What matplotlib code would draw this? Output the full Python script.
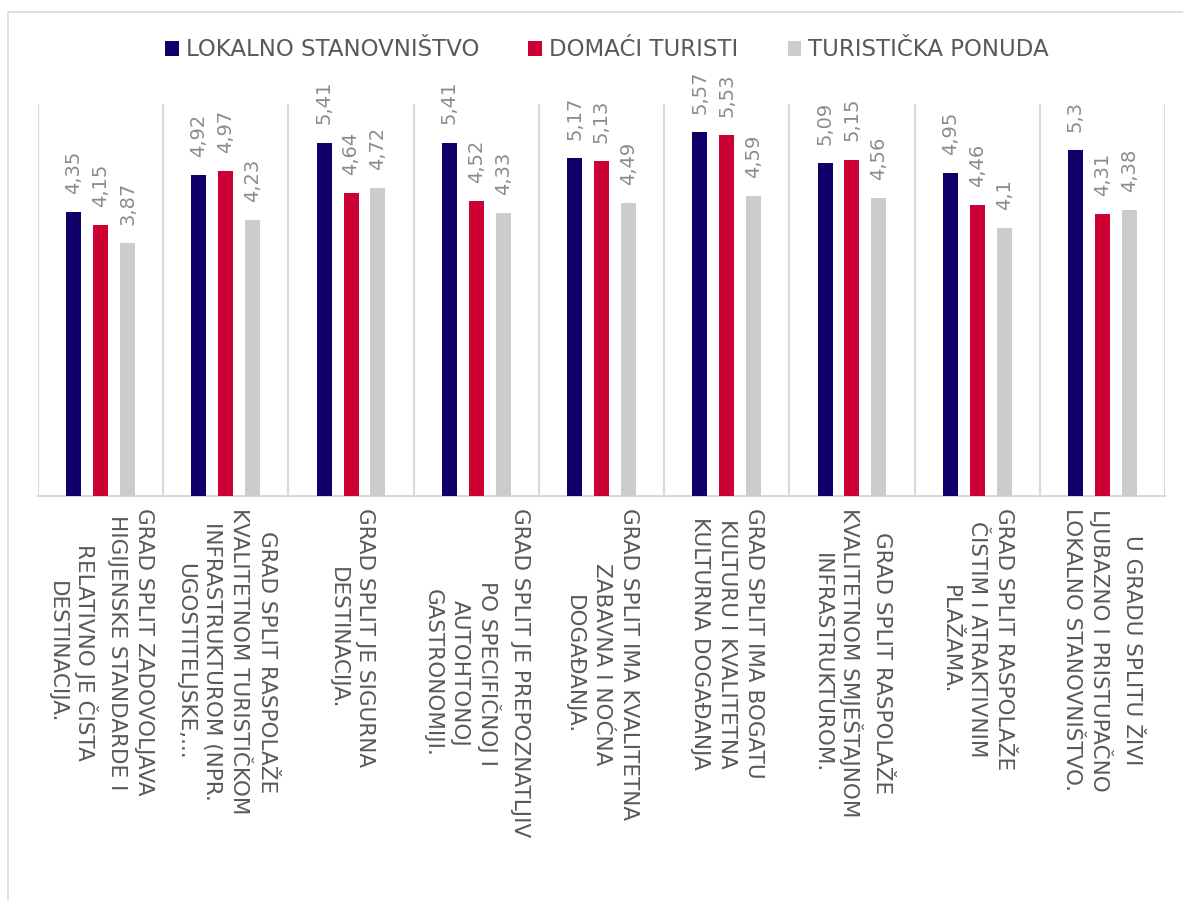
import numpy as np
import matplotlib
matplotlib.use('Agg')
import matplotlib.pyplot as plt
from matplotlib.patches import Rectangle

categories = [
    'GRAD SPLIT ZADOVOLJAVA\nHIGIJENSKE STANDARDE I\nRELATIVNO JE ČISTA\nDESTINACIJA.',
    'GRAD SPLIT RASPOLAŽE\nKVALITETNOM TURISTIČKOM\nINFRASTRUKTUROM (NPR.\nUGOSTITELJSKE,...',
    'GRAD SPLIT JE SIGURNA\nDESTINACIJA.',
    'GRAD SPLIT JE PREPOZNATLJIV\nPO SPECIFIČNOJ I\nAUTOHTONOJ\nGASTRONOMIJI.',
    'GRAD SPLIT IMA KVALITETNA\nZABAVNA I NOĆNA\nDOGAĐANJA.',
    'GRAD SPLIT IMA BOGATU\nKULTURU I KVALITETNA\nKULTURNA DOGAĐANJA',
    'GRAD SPLIT RASPOLAŽE\nKVALITETNOM SMJEŠTAJNOM\nINFRASTRUKTUROM.',
    'GRAD SPLIT RASPOLAŽE\nČISTIM I ATRAKTIVNIM\nPLAŽAMA.',
    'U GRADU SPLITU ŽIVI\nLJUBAZNO I PRISTUPAČNO\nLOKALNO STANOVNIŠTVO.',
]
series_names = ['LOKALNO STANOVNIŠTVO', 'DOMAĆI TURISTI', 'TURISTIČKA PONUDA']
lokalno = [4.35, 4.92, 5.41, 5.41, 5.17, 5.57, 5.09, 4.95, 5.3]
domaci = [4.15, 4.97, 4.64, 4.52, 5.13, 5.53, 5.15, 4.46, 4.31]
ponuda = [3.87, 4.23, 4.72, 4.33, 4.49, 4.59, 4.56, 4.1, 4.38]
colors = ['#10006a', '#cc0033', '#cccccc']

plt.rcParams['font.family'] = ['DejaVu Sans']

fig = plt.figure(figsize=(11.83, 9.01), dpi=100)
ax = fig.add_axes([38 / 1183, 1 - 496 / 901, (1165 - 38) / 1183, (496 - 104) / 901])

x = np.arange(len(categories))
pitch = 0.215
width = 0.12
for k, (vals, col, name) in enumerate(zip([lokalno, domaci, ponuda], colors, series_names)):
    pos = x + (k - 1) * pitch
    ax.bar(pos, vals, width=width, color=col, label=name, zorder=3)
    for p, v in zip(pos, vals):
        ax.annotate(('%g' % v).replace('.', ','), (p, v), xytext=(0, 13),
                    textcoords='offset points', rotation=90, ha='center', va='bottom',
                    fontsize=14, color='#8c8c8c')

ax.set_xlim(-0.5, len(categories) - 0.5)
ax.set_ylim(0, 6)
for b in np.arange(-0.5, len(categories), 1.0):
    ax.axvline(b, color='#d9d9d9', linewidth=1.5, zorder=1)
for s in ['top', 'left', 'right']:
    ax.spines[s].set_visible(False)
ax.spines['bottom'].set_color('#d9d9d9')
ax.spines['bottom'].set_linewidth(1.5)
ax.set_yticks([])
ax.set_xticks(x)
ax.set_xticklabels(categories, rotation=-90, ha='center', va='top', multialignment='center',
                   fontsize=15.5, color='#595959', linespacing=1.45)
ax.tick_params(axis='x', length=0, pad=9)

fig.legend(*ax.get_legend_handles_labels(), loc='center', bbox_to_anchor=(607 / 1183, 1 - 50 / 901),
           ncol=3, frameon=False, fontsize=16.5, labelcolor='#595959', handlelength=0.6,
           handleheight=0.65, handletextpad=0.3, columnspacing=2.15)

# outer chart border (only top and left edges visible)
fig.patches.append(Rectangle((8 / 1183, -0.1), 1.2, 1 - 12 / 901 + 0.1, transform=fig.transFigure,
                             fill=False, edgecolor='#d9d9d9', linewidth=1.2))

plt.savefig('out.png', dpi=100)
